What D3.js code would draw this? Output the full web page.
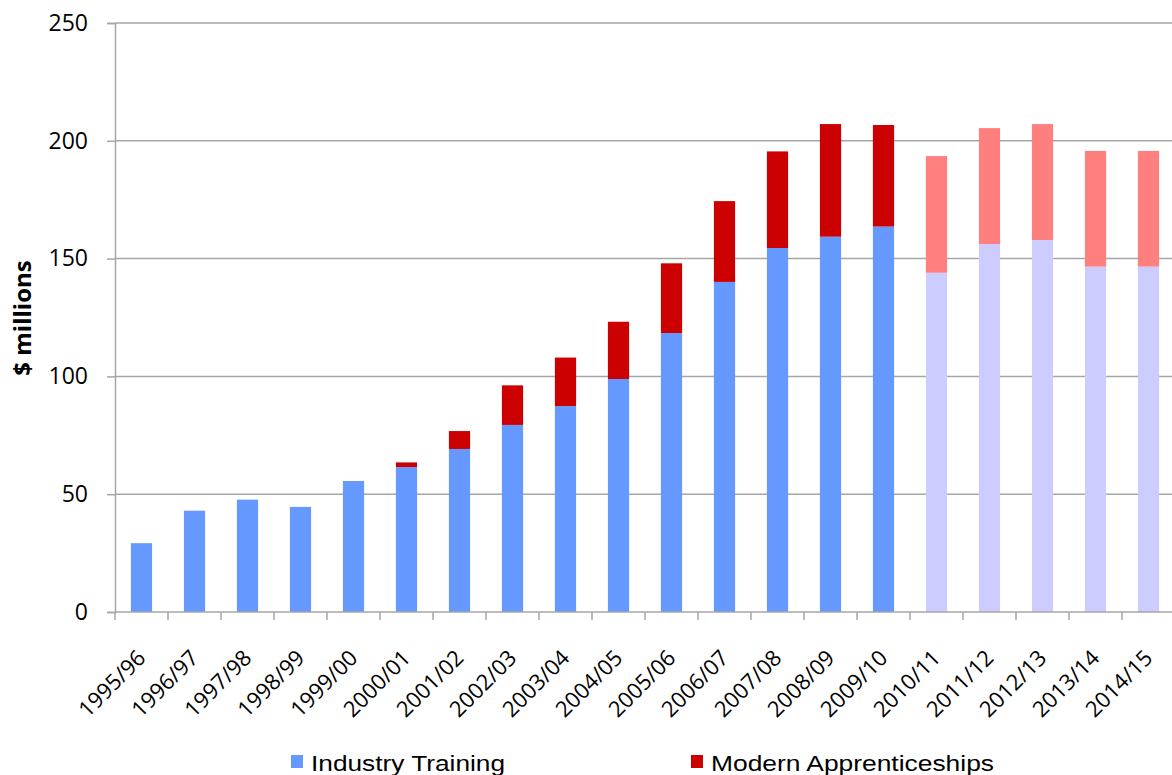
<!DOCTYPE html>
<html>
<head>
<meta charset="utf-8">
<script src="https://cdn.jsdelivr.net/npm/d3@7"></script>
<style>
  body { margin: 0; background: #fff; }
  svg { display: block; }
</style>
</head>
<body>
<svg id="chart" width="1172" height="775"></svg>
<script>
// ------------------------------------
// Data
// ------------------------------------
const years = [
  "1995/96", "1996/97", "1997/98", "1998/99", "1999/00",
  "2000/01", "2001/02", "2002/03", "2003/04", "2004/05",
  "2005/06", "2006/07", "2007/08", "2008/09", "2009/10",
  "2010/11", "2011/12", "2012/13", "2013/14", "2014/15"
];

const industryTraining = [
  29.2, 43.0, 47.7, 44.6, 55.6,
  61.5, 69.2, 79.4, 87.4, 98.9,
  118.4, 140.1, 154.5, 159.3, 163.6,
  144.0, 156.2, 157.9, 146.6, 146.6
];

const modernApprenticeships = [
  0, 0, 0, 0, 0,
  2.0, 7.6, 16.8, 20.6, 24.3,
  29.6, 34.3, 41.0, 47.8, 43.1,
  49.5, 49.2, 49.2, 49.1, 49.1
];

// years shown as projections (lighter shades)
const projectedYears = ["2010/11", "2011/12", "2012/13", "2013/14", "2014/15"];

const yTicks = [0, 50, 100, 150, 200, 250];

// ------------------------------------
// Layout
// ------------------------------------
const svg = d3.select("#chart");
const margin = { top: 23, left: 115, bottom: 163 };
const plotW = 1060;
const plotH = 775 - margin.top - margin.bottom;

const colors = {
  it: "#6699ff", itProj: "#ccccff",
  ma: "#cc0000", maProj: "#ff7f7f"
};

const x = d3.scaleBand().domain(years).range([0, plotW]).paddingInner(0.6).paddingOuter(0.3);
const y = d3.scaleLinear().domain([0, 250]).range([plotH, 0]);

const g = svg.append("g").attr("transform", `translate(${margin.left},${margin.top})`);

// gridlines
g.append("g")
  .selectAll("line")
  .data(yTicks.filter(d => d > 0))
  .join("line")
  .attr("x1", 0).attr("x2", plotW)
  .attr("y1", d => y(d)).attr("y2", d => y(d))
  .attr("stroke", "#a6a6a6")
  .attr("stroke-width", 1.5);

// stacked bars
const rows = years.map((yr, i) => ({
  year: yr,
  it: industryTraining[i],
  ma: modernApprenticeships[i],
  proj: projectedYears.includes(yr)
}));

g.append("g")
  .selectAll("rect")
  .data(rows)
  .join("rect")
  .attr("x", d => x(d.year))
  .attr("width", x.bandwidth())
  .attr("y", d => y(d.it))
  .attr("height", d => y(0) - y(d.it))
  .attr("fill", d => d.proj ? colors.itProj : colors.it);

g.append("g")
  .selectAll("rect")
  .data(rows.filter(d => d.ma > 0))
  .join("rect")
  .attr("x", d => x(d.year))
  .attr("width", x.bandwidth())
  .attr("y", d => y(d.it + d.ma))
  .attr("height", d => y(d.it) - y(d.it + d.ma))
  .attr("fill", d => d.proj ? colors.maProj : colors.ma);

// Y axis
const yAxis = g.append("g")
  .call(d3.axisLeft(y).tickValues(yTicks).tickSize(8).tickPadding(19));
yAxis.select(".domain").attr("stroke", "#a6a6a6").attr("stroke-width", 1.5);
yAxis.selectAll(".tick line").attr("stroke", "#a6a6a6").attr("stroke-width", 1.5);
yAxis.selectAll(".tick text")
  .style("font-family", "'Open Sans', sans-serif")
  .style("font-size", "23px")
  .attr("fill", "#000");

// X axis (ticks between bands)
const xAxisG = g.append("g").attr("transform", `translate(0,${plotH})`);
xAxisG.append("line")
  .attr("x1", 0).attr("x2", plotW)
  .attr("stroke", "#a6a6a6").attr("stroke-width", 1.5);
const step = x.step();
xAxisG.selectAll(".sep")
  .data(d3.range(years.length + 1))
  .join("line")
  .attr("class", "sep")
  .attr("x1", i => i * step).attr("x2", i => i * step)
  .attr("y1", 0).attr("y2", 8)
  .attr("stroke", "#a6a6a6").attr("stroke-width", 1.5);

xAxisG.selectAll(".lbl")
  .data(years)
  .join("text")
  .attr("class", "lbl")
  .attr("transform", d => `translate(${x(d) + x.bandwidth() / 2},${42}) rotate(-45)`)
  .attr("text-anchor", "end")
  .attr("dy", "0.35em")
  .style("font-family", "'Open Sans', sans-serif")
  .style("font-size", "22px")
  .text(d => d);

// Y title
svg.append("text")
  .attr("transform", `translate(31,318) rotate(-90)`)
  .attr("text-anchor", "middle")
  .style("font-family", "'Open Sans', sans-serif")
  .style("font-weight", "bold")
  .style("font-size", "24px")
  .text("$ millions");

// Legend
const legend = [
  { label: "Industry Training", color: colors.it, x: 291, w: 194 },
  { label: "Modern Apprenticeships", color: colors.ma, x: 691, w: 283 }
];
const lg = svg.append("g").selectAll("g").data(legend).join("g")
  .attr("transform", d => `translate(${d.x},755)`);
lg.append("rect").attr("width", 12).attr("height", 13).attr("fill", d => d.color);
lg.append("text")
  .attr("x", 20).attr("y", 16)
  .attr("textLength", d => d.w)
  .attr("lengthAdjust", "spacingAndGlyphs")
  .style("font-family", "'Liberation Sans', Arial, sans-serif")
  .style("font-size", "22px")
  .text(d => d.label);
</script>
</body>
</html>
